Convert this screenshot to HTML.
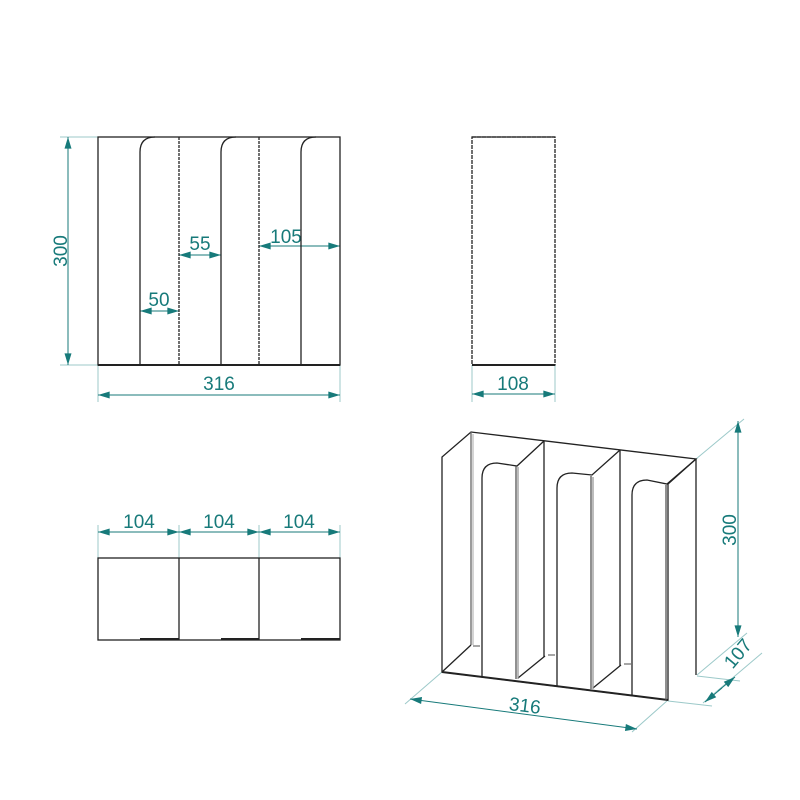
<!DOCTYPE html>
<html><head><meta charset="utf-8"><style>
html,body{margin:0;padding:0;background:#fff;}
svg{display:block;}
text{font-family:"Liberation Sans Narrow","Liberation Sans",sans-serif;font-size:19px;fill:#177a7a;}
</style></head><body>
<svg width="800" height="800" viewBox="0 0 800 800" xmlns="http://www.w3.org/2000/svg">
<defs>
<marker id="a" viewBox="0 0 10 6" refX="10" refY="3" markerWidth="14" markerHeight="7" markerUnits="userSpaceOnUse" orient="auto-start-reverse"><path d="M0,0 L10,3 L0,6 z" fill="#177a7a"/></marker>
</defs>
<g stroke="#9cc9c9" stroke-width="1" fill="none">
<line x1="60" y1="137" x2="98" y2="137"/><line x1="60" y1="365" x2="98" y2="365"/>
<line x1="98" y1="365" x2="98" y2="402"/><line x1="340" y1="365" x2="340" y2="402"/>
<line x1="472" y1="365" x2="472" y2="402"/><line x1="555" y1="365" x2="555" y2="402"/>
<line x1="98" y1="525" x2="98" y2="558"/><line x1="179" y1="525" x2="179" y2="558"/><line x1="259" y1="525" x2="259" y2="558"/><line x1="340" y1="525" x2="340" y2="558"/>
<line x1="696" y1="459" x2="744" y2="419"/>
<line x1="697" y1="675" x2="747" y2="633"/>
<line x1="442" y1="672" x2="405" y2="704"/>
<line x1="668" y1="700" x2="632" y2="732"/>
<line x1="697" y1="676" x2="740" y2="681"/>
<line x1="668" y1="701" x2="712" y2="706"/>
<line x1="703" y1="703" x2="762" y2="653"/>
</g>
<g stroke="#177a7a" stroke-width="1" fill="none" marker-start="url(#a)" marker-end="url(#a)">
<line x1="68" y1="137" x2="68" y2="365"/>
<line x1="98" y1="395" x2="340" y2="395"/>
<line x1="140" y1="311" x2="179" y2="311"/>
<line x1="179" y1="255" x2="221" y2="255"/>
<line x1="259" y1="246" x2="340" y2="246"/>
<line x1="472" y1="394" x2="555" y2="394"/>
<line x1="98" y1="532" x2="179" y2="532"/>
<line x1="179" y1="532" x2="259" y2="532"/>
<line x1="259" y1="532" x2="340" y2="532"/>
<line x1="738" y1="421" x2="738" y2="637"/>
<line x1="410" y1="699" x2="637" y2="729"/>
</g>
<g stroke="#177a7a" stroke-width="1" fill="none">
<line x1="705" y1="702" x2="722" y2="688" marker-start="url(#a)"/>
<line x1="735" y1="677" x2="718" y2="691" marker-start="url(#a)"/>
</g>
<g>
<text x="60" y="251" text-anchor="middle" transform="rotate(-90 60 251)" dy="7">300</text>
<text x="219" y="390" text-anchor="middle">316</text>
<text x="159" y="306" text-anchor="middle">50</text>
<text x="200" y="250" text-anchor="middle">55</text>
<text x="286" y="243" text-anchor="middle">105</text>
<text x="513" y="390" text-anchor="middle">108</text>
<text x="139" y="528" text-anchor="middle">104</text>
<text x="219" y="528" text-anchor="middle">104</text>
<text x="299" y="528" text-anchor="middle">104</text>
<text x="729" y="530" text-anchor="middle" transform="rotate(-90 729 530)" dy="7">300</text>
<text x="525" y="712" text-anchor="middle" transform="rotate(7 525 705)">316</text>
<text x="742" y="658" text-anchor="middle" transform="rotate(-50 742 657)">107</text>
</g>
<g stroke="#222" stroke-width="1.3" fill="none">
<rect x="98" y="137" width="242" height="228"/>
<path d="M140,365 V152 Q140,137 155,137"/>
<path d="M221,365 V152 Q221,137 236,137"/>
<path d="M301,365 V152 Q301,137 316,137"/>
<line x1="179" y1="137" x2="179" y2="365" stroke-dasharray="3 1"/>
<line x1="259" y1="137" x2="259" y2="365" stroke-dasharray="3 1"/>
<line x1="98" y1="365" x2="340" y2="365" stroke-width="2"/>
<rect x="472" y="137" width="83" height="228" stroke-dasharray="4 1"/>
<line x1="472" y1="137" x2="555" y2="137"/>
<line x1="472" y1="365" x2="555" y2="365" stroke-width="2"/>
<rect x="98" y="558" width="242" height="82"/>
<line x1="179" y1="558" x2="179" y2="640"/><line x1="259" y1="558" x2="259" y2="640"/>
<line x1="140" y1="639" x2="179" y2="639" stroke-width="2"/>
<line x1="221" y1="639" x2="259" y2="639" stroke-width="2"/>
<line x1="301" y1="639" x2="340" y2="639" stroke-width="2"/>
<path d="M442,672 V457 L471,432 L696,459 L668,484 V700 Z"/>
<line x1="696" y1="459" x2="696" y2="675"/>
<line x1="442" y1="672" x2="668" y2="700" stroke-width="2"/>
<line x1="471" y1="432" x2="471" y2="645" stroke="#666"/>
<line x1="473" y1="434" x2="473" y2="645" stroke="#aaa" stroke-width="1"/>
<line x1="442" y1="672" x2="471" y2="645"/>
<line x1="544" y1="441" x2="544" y2="657"/>
<line x1="620" y1="450" x2="620" y2="666"/>
<line x1="518" y1="678" x2="545" y2="656"/>
<line x1="593" y1="688" x2="621" y2="665"/>
<path d="M482,677 V478 Q482,463 497,463 L517,466 L544,441"/>
<line x1="516" y1="466" x2="516" y2="679" stroke="#555"/>
<line x1="518" y1="467" x2="518" y2="679" stroke="#999"/>
<path d="M557,686 V488 Q557,473 572,473 L592,475 L620,450"/>
<line x1="591" y1="476" x2="591" y2="689" stroke="#555"/>
<line x1="593" y1="477" x2="593" y2="689" stroke="#999"/>
<path d="M632,696 V495 Q632,480 647,480 L667,484 L696,459"/>
<line x1="666" y1="485" x2="666" y2="700" stroke="#555"/>
<line x1="473" y1="646" x2="480" y2="646" stroke="#777"/>
<line x1="548" y1="655" x2="555" y2="655" stroke="#777"/>
<line x1="624" y1="664" x2="631" y2="664" stroke="#777"/>
</g>
</svg>
</body></html>
